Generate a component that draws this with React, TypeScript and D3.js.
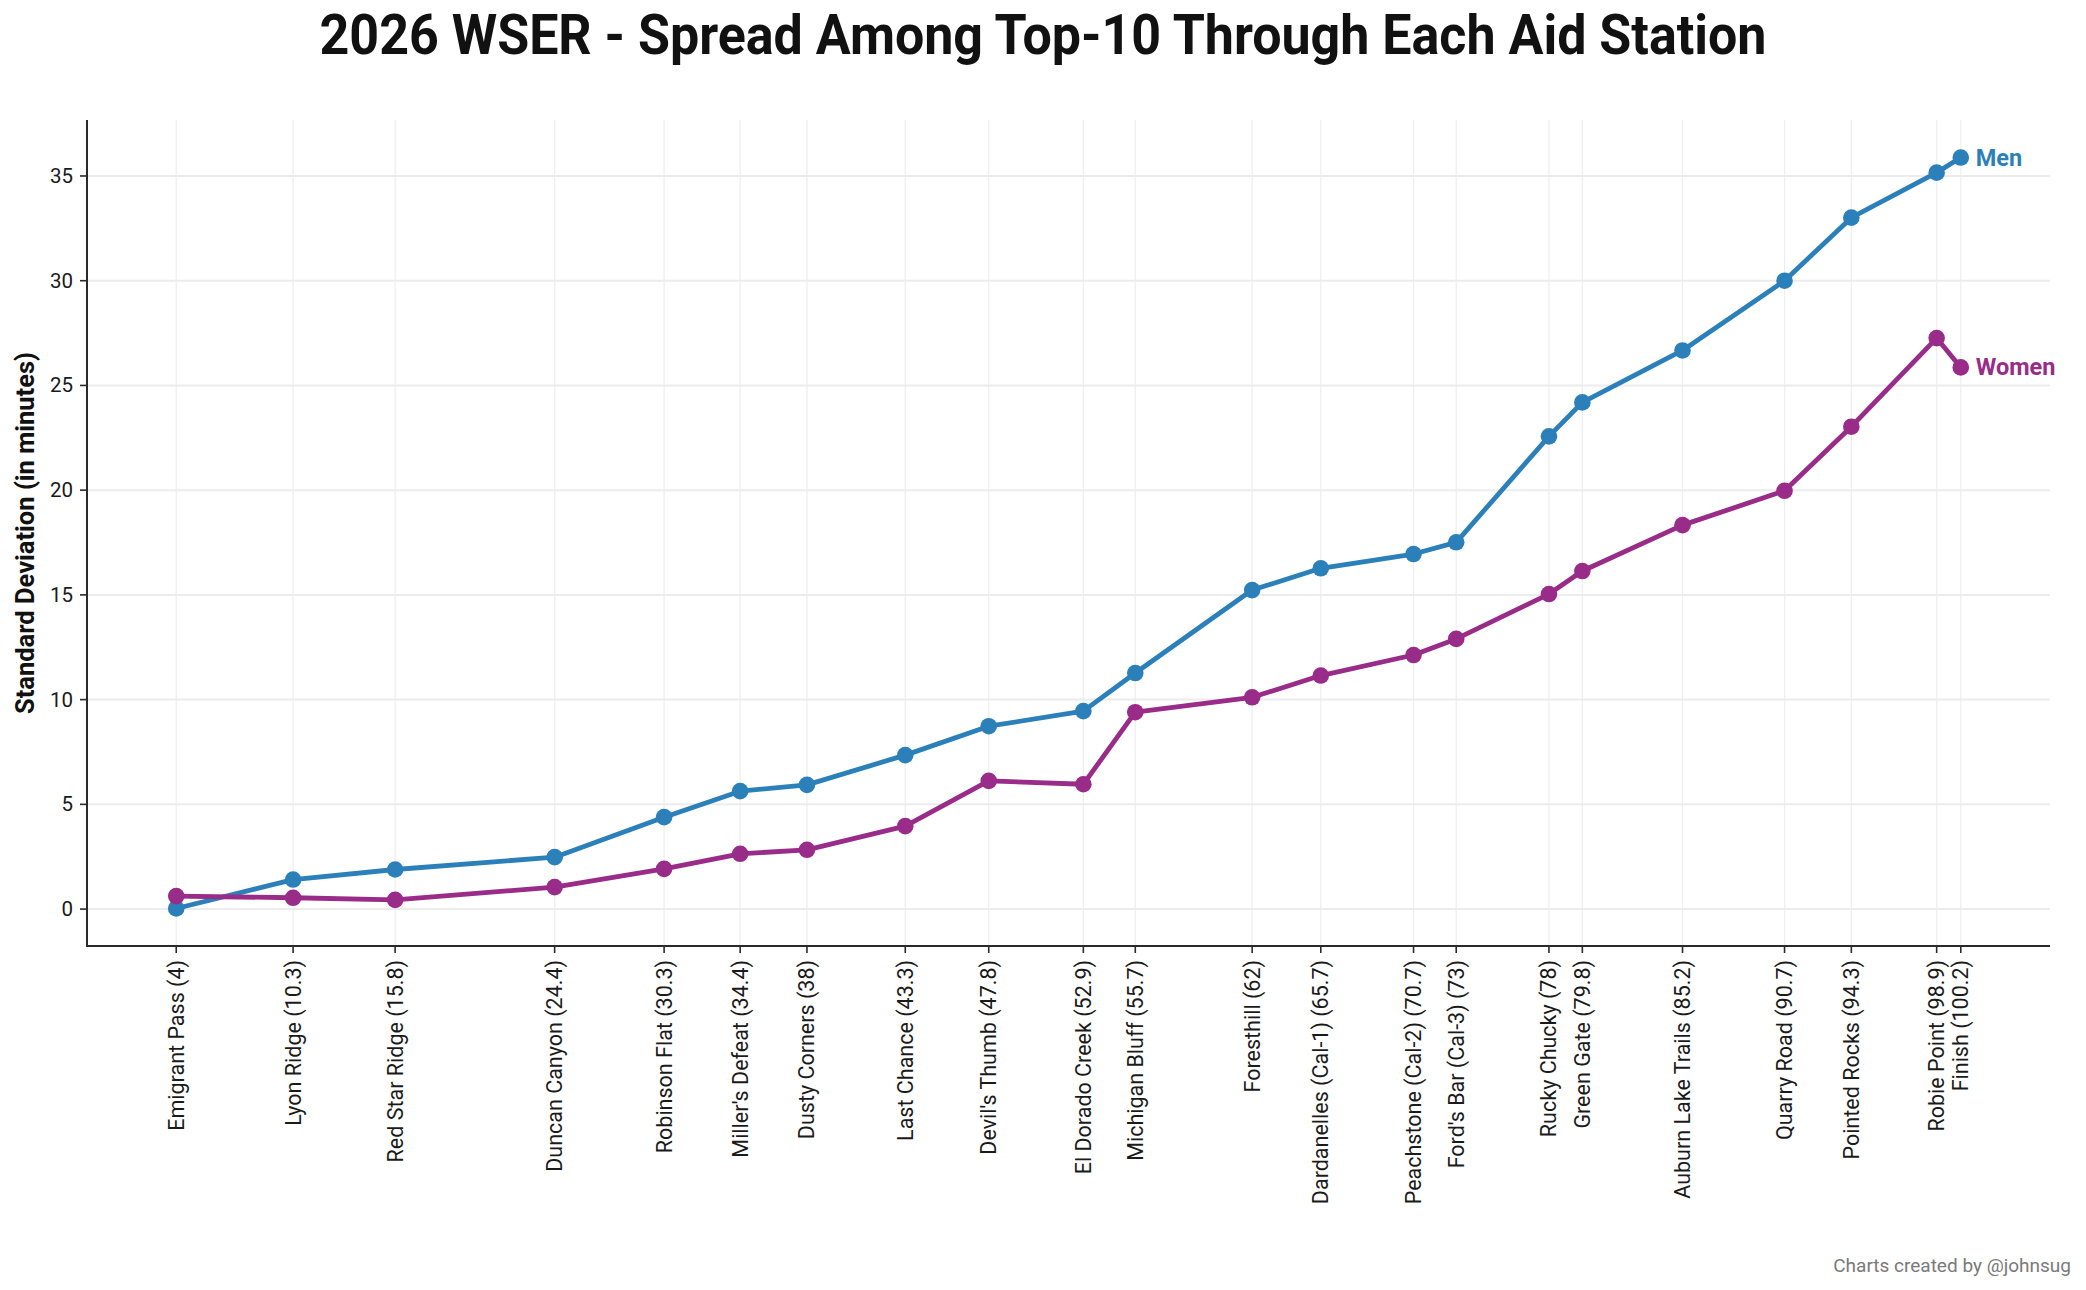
import React from "react";
import * as d3 from "d3";

const stations = [
  "Emigrant Pass", "Lyon Ridge", "Red Star Ridge", "Duncan Canyon", "Robinson Flat",
  "Miller's Defeat", "Dusty Corners", "Last Chance", "Devil's Thumb", "El Dorado Creek",
  "Michigan Bluff", "Foresthill", "Dardanelles (Cal-1)", "Peachstone (Cal-2)", "Ford's Bar (Cal-3)",
  "Rucky Chucky", "Green Gate", "Auburn Lake Trails", "Quarry Road", "Pointed Rocks",
  "Robie Point", "Finish",
];
const miles = [4, 10.3, 15.8, 24.4, 30.3, 34.4, 38, 43.3, 47.8, 52.9, 55.7, 62, 65.7, 70.7, 73, 78, 79.8, 85.2, 90.7, 94.3, 98.9, 100.2];
const men = [0.03, 1.41, 1.89, 2.48, 4.39, 5.63, 5.93, 7.35, 8.73, 9.45, 11.27, 15.23, 16.27, 16.95, 17.51, 22.57, 24.19, 26.67, 30.0, 33.01, 35.16, 35.88];
const women = [0.62, 0.54, 0.44, 1.05, 1.92, 2.64, 2.83, 3.96, 6.12, 5.96, 9.4, 10.11, 11.15, 12.13, 12.9, 15.04, 16.14, 18.33, 19.97, 23.03, 27.26, 25.86];
const yTicks = [0, 5, 10, 15, 20, 25, 30, 35];
const seriesNames = ["Men", "Women"];
const seriesColors = ["#2c80ba", "#992b89"];

const W = 2086;
const H = 1290;
const left = 87;
const right = 2050;
const top = 120;
const bottom = 946;

const regular = "Roboto, 'Noto Sans', sans-serif";
const bold = "Roboto, 'Noto Sans', sans-serif";

export default function App() {
  const xPad = (d3.max(miles)! - d3.min(miles)!) * 0.05;
  const x = d3.scaleLinear().domain([d3.min(miles)! - xPad, d3.max(miles)! + xPad]).range([left, right]);
  const allVals = men.concat(women);
  const yMin = d3.min(allVals)!;
  const yMax = d3.max(allVals)!;
  const yPad = (yMax - yMin) * 0.05;
  const y = d3.scaleLinear().domain([yMin - yPad, yMax + yPad]).range([bottom, top]);

  const series = [men, women];
  const line = d3.line<number>().x((_, i) => x(miles[i])).y((d) => y(d));

  return (
    <svg width={W} height={H} style={{ position: "absolute", left: 0, top: 0, background: "#fff" }}>
      <rect x={0} y={0} width={W} height={H} fill="#fff" />
      {/* gridlines */}
      {miles.map((m, i) => (
        <line key={"vg" + i} x1={x(m)} x2={x(m)} y1={top} y2={bottom} stroke="#efefef" strokeWidth={1.3} />
      ))}
      {yTicks.map((t) => (
        <line key={"hg" + t} x1={left} x2={right} y1={y(t)} y2={y(t)} stroke="#ececec" strokeWidth={2} />
      ))}
      {/* series */}
      {series.map((s, si) => (
        <g key={"s" + si}>
          <path d={line(s) || ""} fill="none" stroke={seriesColors[si]} strokeWidth={4.8} strokeLinejoin="round" strokeLinecap="round" />
          {s.map((v, i) => (
            <circle key={i} cx={x(miles[i])} cy={y(v)} r={8.3} fill={seriesColors[si]} />
          ))}
          <text
            x={x(miles[miles.length - 1]) + 15}
            y={y(s[s.length - 1])}
            dominantBaseline="central"
            fontFamily={bold}
            fontWeight={700}
            fontSize={23.5}
            fill={seriesColors[si]}
          >
            {seriesNames[si]}
          </text>
        </g>
      ))}
      {/* axes */}
      <line x1={left} x2={left} y1={top} y2={bottom} stroke="#2a2a2a" strokeWidth={2} />
      <line x1={left - 1} x2={right} y1={bottom} y2={bottom} stroke="#2a2a2a" strokeWidth={2} />
      {yTicks.map((t) => (
        <g key={"yt" + t}>
          <line x1={left - 7} x2={left} y1={y(t)} y2={y(t)} stroke="#2a2a2a" strokeWidth={1.6} />
          <text x={left - 14} y={y(t)} textAnchor="end" dominantBaseline="central" fontFamily={regular} fontSize={20.5} fill="#1a1a1a">
            {t}
          </text>
        </g>
      ))}
      {miles.map((m, i) => (
        <g key={"xt" + i}>
          <line x1={x(m)} x2={x(m)} y1={bottom} y2={bottom + 7} stroke="#2a2a2a" strokeWidth={1.6} />
          <text
            transform={`translate(${x(m)},${bottom + 14}) rotate(-90)`}
            textAnchor="end"
            dominantBaseline="central"
            fontFamily={regular}
            fontSize={21.5}
            fill="#1a1a1a"
          >
            {`${stations[i]} (${m})`}
          </text>
        </g>
      ))}
      {/* y label */}
      <text
        transform={`translate(25,${(top + bottom) / 2}) rotate(-90)`}
        textAnchor="middle"
        dominantBaseline="central"
        fontFamily={bold}
        fontWeight={700}
        fontSize={25.5}
        fill="#111"
      >
        Standard Deviation (in minutes)
      </text>
      {/* title */}
      <text
        x={1043}
        y={54}
        textAnchor="middle"
        fontFamily={bold}
        fontWeight={700}
        fontSize={55}
        fill="#111"
        textLength={1447}
        lengthAdjust="spacingAndGlyphs"
      >
        2026 WSER - Spread Among Top-10 Through Each Aid Station
      </text>
      {/* footer */}
      <text x={2071} y={1272} textAnchor="end" fontFamily={regular} fontSize={19} fill="#7a7a7a">
        Charts created by @johnsug
      </text>
    </svg>
  );
}
